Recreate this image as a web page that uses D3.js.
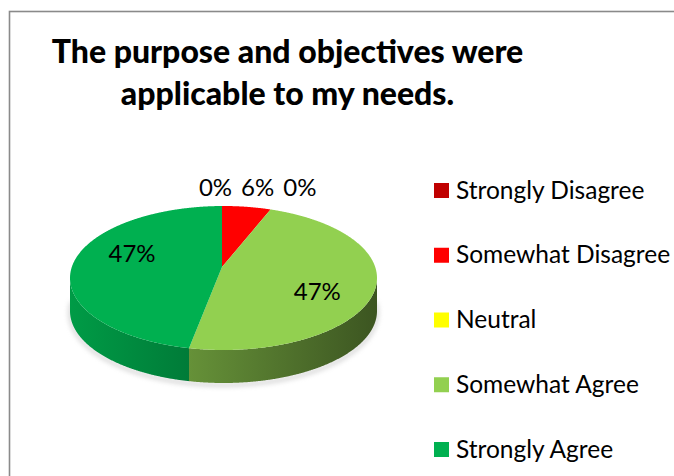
<!DOCTYPE html>
<html>
<head>
<meta charset="utf-8">
<script src="https://cdn.jsdelivr.net/npm/d3@7"></script>
<style>
  html, body { margin: 0; padding: 0; background: #fff; }
  svg { display: block; font-family: Lato, "Open Sans", sans-serif; }
</style>
</head>
<body>
<svg id="chart" width="674" height="476"></svg>
<script>
const titleLines = ["The purpose and objectives were", "applicable to my needs."];
const categories = ["Strongly Disagree", "Somewhat Disagree", "Neutral", "Somewhat Agree", "Strongly Agree"];
const values = [0, 6, 0, 47, 47];
const colors = ["#c00000", "#ff0000", "#ffff00", "#92d050", "#00b050"];

const svg = d3.select("#chart");
const width = 674, height = 476;

// chart frame (runs off the right / bottom of the picture)
svg.append("rect")
  .attr("x", 9.5).attr("y", 11.5)
  .attr("width", width + 20).attr("height", height + 20)
  .attr("fill", "none")
  .attr("stroke", "#8a8a8a")
  .attr("stroke-width", 1.6);

svg.append("g")
  .selectAll("text")
  .data(titleLines)
  .enter()
  .append("text")
  .attr("x", 287.5)
  .attr("y", (d, i) => 63 + i * 42)
  .attr("text-anchor", "middle")
  .attr("font-size", 32)
  .attr("font-weight", 900)
  .attr("fill", "#000")
  .text(d => d);

// 3d pie geometry: top ellipse, the point where slices meet, and the wall depth
const cx = 223.5, cy = 278, rx = 153.5, ry = 72;
const vx = 222, vy = 267;
const depth = 33;

// rim point of the top face for a pie angle (0 = 12 o'clock, clockwise)
function rim(a, k = 1) {
  const dx = rx * Math.sin(a), dy = -ry * Math.cos(a);
  const ox = (vx - cx) / rx, oy = (vy - cy) / ry;
  const ex = dx / rx, ey = dy / ry;
  const A = ex * ex + ey * ey, B = 2 * (ox * ex + oy * ey), C = ox * ox + oy * oy - 1;
  const s = (-B + Math.sqrt(B * B - 4 * A * C)) / (2 * A);
  return [vx + dx * s * k, vy + dy * s * k];
}

function rimPoints(a0, a1) {
  const n = Math.max(2, Math.ceil((a1 - a0) / 0.004));
  return d3.range(n + 1).map(i => rim(a0 + (a1 - a0) * i / n));
}

const pie = d3.pie().sort(null).value(d => d)(values);
pie.forEach((d, i) => { d.name = categories[i]; d.color = colors[i]; });

const line = d3.line();
const defs = svg.append("defs");

// shading of the walls, darker to the right
const shade = d3.scaleLinear().domain([cx - rx, cx + rx]).range([0.88, 0.41]);
pie.forEach((d, i) => {
  const c = d3.rgb(d.color);
  const g = defs.append("linearGradient")
    .attr("id", "side" + i)
    .attr("gradientUnits", "userSpaceOnUse")
    .attr("x1", cx - rx).attr("x2", cx + rx)
    .attr("y1", 0).attr("y2", 0);
  [0, 0.5, 1].forEach(t => {
    const f = shade(cx - rx + t * 2 * rx);
    g.append("stop")
      .attr("offset", t)
      .attr("stop-color", d3.rgb(c.r * f, c.g * f, c.b * f));
  });
});

defs.append("filter").attr("id", "soft")
  .append("feGaussianBlur").attr("stdDeviation", 2.5);

const pieG = svg.append("g");

// faint shadow under the pie
pieG.append("path")
  .attr("d", line(rimPoints(Math.PI / 2, Math.PI * 1.5).map(p => [p[0], p[1] + depth + 2])))
  .attr("fill", "none")
  .attr("stroke", "#999")
  .attr("stroke-width", 3)
  .attr("opacity", 0.5)
  .attr("filter", "url(#soft)");

// front walls
pieG.append("g")
  .selectAll("path")
  .data(pie.filter(d => d.value > 0))
  .enter()
  .append("path")
  .attr("d", d => {
    const top = rimPoints(d.startAngle, d.endAngle).filter(p => p[1] >= cy - 0.5);
    if (top.length < 2) return null;
    const bottom = top.map(p => [p[0], p[1] + depth]).reverse();
    return line(top.concat(bottom)) + "Z";
  })
  .attr("fill", d => `url(#side${d.index})`);

// top faces
pieG.append("g")
  .selectAll("path")
  .data(pie.filter(d => d.value > 0))
  .enter()
  .append("path")
  .attr("d", d => line([[vx, vy]].concat(rimPoints(d.startAngle, d.endAngle))) + "Z")
  .attr("fill", d => d.color);

// labels: wide slices inside, thin ones above the rim, pushed apart
const fmt = d => d.value + "%";
const labelSize = 24;
const inside = pie.filter(d => d.endAngle - d.startAngle > 0.5);
const outside = pie.filter(d => d.endAngle - d.startAngle <= 0.5);

pieG.append("g")
  .selectAll("text")
  .data(inside)
  .enter()
  .append("text")
  .each(function(d) {
    const a = (d.startAngle + d.endAngle) / 2 + 0.22;
    const p = rim(a);
    d.lx = vx + (p[0] - vx) * 0.66;
    d.ly = vy + (p[1] - vy) * 0.66;
  })
  .attr("x", d => d.lx)
  .attr("y", d => d.ly + 8.5)
  .attr("text-anchor", "middle")
  .attr("font-size", labelSize)
  .attr("fill", "#000")
  .text(fmt);

const outTexts = pieG.append("g")
  .selectAll("text")
  .data(outside)
  .enter()
  .append("text")
  .attr("text-anchor", "middle")
  .attr("font-size", labelSize)
  .attr("fill", "#000")
  .text(fmt);

outTexts.each(function(d) {
  const p = rim((d.startAngle + d.endAngle) / 2, 1.3);
  d.lx = p[0]; d.ly = p[1];
  d.w = this.getComputedTextLength();
});
// spread the little labels left to right so they do not overlap
const gap = 9;
const row = outside.slice().sort((a, b) => a.startAngle - b.startAngle);
const total = d3.sum(row, d => d.w) + gap * (row.length - 1);
const mid = d3.mean(row, d => d.lx);
let left = mid - total / 2 + 4;
row.forEach(d => { d.lx = left + d.w / 2; left += d.w + gap; });
outTexts
  .attr("x", d => d.lx)
  .attr("y", d => d3.min(row, r => r.ly) + 8);

// legend
const legend = svg.append("g")
  .selectAll("g")
  .data(categories)
  .enter()
  .append("g")
  .attr("transform", (d, i) => `translate(434, ${190.5 + i * 64.75})`);
legend.append("rect")
  .attr("x", 0).attr("y", -7.5)
  .attr("width", 15).attr("height", 15)
  .attr("fill", (d, i) => colors[i]);
legend.append("text")
  .attr("x", 22)
  .attr("y", 8)
  .attr("font-size", 24.5)
  .attr("fill", "#000")
  .text(d => d);
</script>
</body>
</html>
